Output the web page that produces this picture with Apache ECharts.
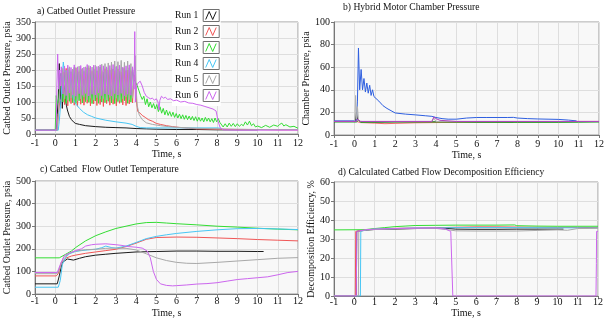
<!DOCTYPE html>
<html><head><meta charset="utf-8">
<script src="https://cdn.jsdelivr.net/npm/echarts/dist/echarts.min.js"></script>
<style>html,body{margin:0;padding:0;background:#fff}#c{width:606px;height:326px}</style>
</head><body><div id="c"></div>
<script>
// ---------- shared ----------
const runNames = ['Run 1','Run 2','Run 3','Run 4','Run 5','Run 6'];
const xTicks = {min:-1, max:12, step:1};
const panelTitles = ['a) Catbed Outlet Pressure','b) Hybrid Motor Chamber Pressure','c) Catbed  Flow Outlet Temperature','d) Calculated Catbed Flow Decomposition Efficiency'];
const yNames = ['Catbed Outlet Pressure, psia','Chamber Pressure, psia','Catbed Outlet Pressure, psia','Decomposition Efficiency, %'];
const yRanges = [[0,350,50],[0,100,20],[0,500,100],[0,60,10]];

// ---------- panel a : catbed outlet pressure ----------
const tOscA = [0.30,0.38,0.46,0.54,0.62,0.70,0.78,0.86,0.94,1.02,1.10,1.18,1.26,1.34,1.42,1.50,1.58,1.66,1.74,1.82,1.90,1.98,2.06,2.14,2.22,2.30,2.38,2.46,2.54,2.62,2.70,2.78,2.86,2.94,3.02,3.10,3.18,3.26,3.34,3.42,3.50,3.58,3.66,3.74,3.82,3.90];
const a1 = [[-1,12],[0.05,12],[0.1,60],[0.15,110],[0.2,220],[0.25,90],[0.3,190],[0.35,80],[0.4,160],[0.45,140],[0.5,110],[0.55,90],[0.6,75],[0.7,55],[0.8,45],[0.9,38],[1,33],[1.2,30],[1.5,26],[2,23],[2.5,21],[3,20],[3.5,19],[4,17],[4.5,16],[5,15],[6,14],[7,14],[8,13],[9,13],[10,13]];
const a2Head = [[-1,12],[0.1,12],[0.15,60],[0.22,100]];
const a2Osc = [110,195,92,205,88,200,95,198,90,206,87,195,93,203,90,199,96,207,88,196,94,202,89,208,92,197,86,204,95,200,90,206,93,198,88,203,96,195,91,207,89,200,94,196,97,185];
const a2Tail = [[3.96,175],[4.02,100],[4.08,70],[4.2,65],[4.3,58],[4.45,52],[4.6,45],[4.8,40],[5.0,33],[5.2,30],[5.5,26],[5.8,23],[6.2,20],[6.6,18],[7,16],[8,15],[9,14],[10,14],[11,13],[12,13]];
const a3Head = [[-1,12],[0,12],[0.05,120],[0.1,95],[0.18,110],[0.24,180]];
const a3Osc = [190,100,200,96,205,102,195,98,208,95,198,104,203,97,196,101,207,99,200,95,204,103,197,96,209,100,194,98,206,102,199,97,203,95,210,101,196,99,205,104,198,96,207,100,201,170];
const a3Tail = [[3.98,165],[4.06,150],[4.14,135],[4.22,120],[4.30,108],[4.38,118],[4.46,92],[4.54,110],[4.62,85],[4.70,100],[4.78,82],[4.86,95],[4.94,78],[5.02,92],[5.10,70],[5.18,85],[5.26,65],[5.34,80],[5.42,60],[5.50,75],[5.58,58],[5.66,70],[5.74,55],[5.82,68],[5.90,52],[5.98,64],[6.06,50],[6.14,62],[6.22,48],[6.30,60],[6.38,46],[6.46,58],[6.54,45],[6.62,56],[6.70,44],[6.78,55],[6.86,42],[6.94,54],[7.02,40],[7.10,52],[7.18,40],[7.26,50],[7.34,38],[7.42,52],[7.50,40],[7.58,50],[7.66,38],[7.74,48],[7.82,36],[7.90,50],[7.98,38],[8.06,48],[8.14,36],[8.22,30],[8.30,22],[8.40,32],[8.50,22],[8.60,34],[8.70,24],[8.80,33],[8.90,23],[9.00,32],[9.10,24],[9.20,30],[9.30,26],[9.40,38],[9.50,28],[9.60,40],[9.70,26],[9.80,32],[9.90,22],[10.0,25],[10.2,20],[10.4,27],[10.6,21],[10.8,28],[11.0,24],[11.1,30],[11.2,34],[11.3,25],[11.4,29],[11.6,22],[11.8,24],[12,18]];
const a4 = [[-1,12],[0.15,12],[0.2,40],[0.3,120],[0.35,180],[0.4,225],[0.45,195],[0.5,200],[0.6,195],[0.7,190],[0.8,150],[0.9,110],[1,95],[1.2,80],[1.4,68],[1.6,60],[1.8,55],[2,50],[2.5,43],[3,38],[3.5,34],[3.8,30],[4,24],[4.2,20],[4.5,19],[5,19],[6,19],[7,19],[8,19],[8.2,18]];
const a5Head = [[-1,12],[0.1,12],[0.2,100],[0.25,170]];
const a5Osc = [150,205,110,200,105,210,112,203,108,208,104,212,110,206,115,210,107,214,112,209,106,215,113,212,109,218,111,220,106,222,114,225,108,228,112,226,105,230,110,224,115,228,107,220,112,200];
const a5Tail = [[3.95,245],[3.99,150],[4.05,90],[4.15,60],[4.3,45],[4.5,35],[4.8,30],[5.2,26],[5.6,23],[6,21],[7,18],[8,16],[9,15],[10,14],[11,14],[12,14]];
const a6Head = [[-1,12],[0.05,12],[0.08,150],[0.12,250],[0.17,140],[0.22,200],[0.26,150]];
const a6Osc = [210,125,212,120,215,128,208,122,216,118,210,126,214,121,209,127,217,119,212,124,215,122,211,128,216,120,213,125,210,123,214,119,217,126,211,122,215,127,209,120,213,124,216,121,210,140];
const a6Tail = [[3.93,320],[3.96,100],[4.02,150],[4.1,160],[4.2,165],[4.3,150],[4.4,130],[4.5,118],[4.6,114],[4.7,110],[4.8,112],[4.9,106],[5.0,110],[5.08,100],[5.13,75],[5.17,105],[5.25,118],[5.35,112],[5.45,115],[5.55,108],[5.7,110],[5.85,104],[6.0,106],[6.2,100],[6.4,102],[6.6,97],[6.8,96],[7.0,92],[7.2,90],[7.4,86],[7.6,82],[7.8,78],[7.95,72],[8.05,40],[8.15,20],[8.3,13],[9,12],[12,12]];

// ---------- panel b : chamber pressure ----------
const b1 = [[-1,12],[0.05,12],[0.1,20],[0.15,14],[0.3,12],[1,11.5],[2,11.8],[3,11.6],[4,11.5],[5,11.8],[6,11.5],[7,11.6],[7.8,11.5]];
const b2 = [[-1,12],[0.1,12],[0.3,11],[1,10.5],[1.5,10],[2,10.3],[3,10.8],[4,11],[5,11.2],[6,11.5],[8,11.5],[10,11.8],[11,12],[12,12]];
const b3 = [[-1,11.5],[0.1,11.5],[0.2,13],[0.3,11.2],[2,11.5],[4,11.5],[6,11.3],[8,11.2],[10,11.2],[11,11.3],[12,11.5]];
const b4 = [[-1,12.5],[0.1,12.5],[0.15,30],[0.2,77],[0.26,40],[0.33,58],[0.4,40],[0.47,50],[0.54,38],[0.61,46],[0.68,37],[0.75,44],[0.82,35],[0.89,40],[0.96,34],[1.0,35],[1.2,30],[1.4,26],[1.6,23.5],[1.8,21.5],[2.0,19.5],[2.5,18.5],[3,17.8],[3.5,17],[3.8,16.5],[4,15.5],[4.3,14.5],[4.6,14],[5,14],[5.5,15],[6,15.5],[6.5,15.5],[7,15.5],[7.5,15.5],[7.8,15.6],[8,15],[8.5,14.5],[9,14.2],[9.5,14],[10,13.8],[10.5,13.2],[10.9,12.5]];
const b5 = [[-1,12],[0.02,12],[0.06,35],[0.1,14],[0.15,25],[0.2,13],[0.3,12],[3.8,12],[3.9,15],[4.0,12],[12,12]];
const b6 = [[-1,12],[0.1,12],[0.15,14],[0.3,12],[3.8,12],[3.9,16],[4.0,14.5],[4.2,13],[5,12],[12,12]];

// ---------- panel c : outlet temperature ----------
const c1 = [[-1,45],[0.1,45],[0.2,80],[0.35,140],[0.6,155],[0.9,150],[1.2,158],[1.5,165],[2,172],[2.5,176],[3,180],[3.5,183],[4,186],[5,188],[6,190],[7,190],[8,189],[9,189],[10,188],[10.3,188]];
const c2 = [[-1,80],[0.05,80],[0.15,90],[0.3,140],[0.5,158],[0.8,168],[1,172],[1.5,180],[2,186],[2.5,192],[3,198],[3.5,210],[4,225],[4.5,242],[5,250],[6,252],[7,251],[8,248],[9,245],[10,241],[11,238],[12,235]];
const c3 = [[-1,160],[0.2,160],[0.5,175],[0.8,190],[1,205],[1.5,235],[2,258],[2.5,275],[3,290],[3.5,300],[4,310],[4.5,316],[5,317],[5.5,314],[6,311],[7,306],[8,300],[9,296],[10,291],[11,287],[12,284]];
const c4 = [[-1,30],[0.15,30],[0.25,60],[0.35,130],[0.5,160],[0.7,178],[1,188],[1.3,192],[1.6,195],[2,198],[2.3,205],[2.5,212],[2.8,205],[3,203],[3.5,212],[4,228],[4.5,245],[5,255],[5.5,262],[6,268],[7,277],[8,284],[9,289],[10,290],[11,288],[12,285]];
const c5 = [[-1,90],[0.1,90],[0.25,120],[0.4,160],[0.7,180],[1,190],[1.5,196],[2,198],[2.5,202],[3,203],[3.5,202],[4,195],[4.5,178],[5,160],[5.5,148],[6,140],[6.5,136],[7,135],[8,140],[9,146],[10,152],[11,158],[12,161]];
const c6 = [[-1,95],[0.1,95],[0.25,130],[0.45,170],[0.8,185],[1,192],[1.3,200],[1.5,212],[1.8,218],[2,220],[2.5,222],[3,218],[3.3,215],[3.6,210],[4,207],[4.3,203],[4.55,190],[4.7,160],[4.85,100],[5,65],[5.2,45],[5.5,38],[5.8,36],[6,37],[6.5,40],[7,44],[7.5,46],[8,50],[8.5,57],[9,64],[9.5,68],[10,72],[10.5,76],[11,85],[11.5,95],[12,100]];

// ---------- panel d : decomposition efficiency ----------
const d1 = [[-1,0],[0.1,0],[0.12,34],[0.5,34.6],[1,35],[2,35.2],[3,35.5],[4,35.7],[4.2,35.9],[5,35.2],[6,35.1],[7,35.1],[8,35.2],[9,35.2],[10,35.2],[10.3,35.2]];
const d2 = [[-1,0],[0.05,0],[0.07,34],[0.5,34.8],[1,35.2],[2,35.6],[3,35.8],[4,35.9],[5,36.2],[6,36.4],[7,36.4],[8,36.3],[9,36.2],[10,36.1],[11,36.1],[12,36]];
const d3 = [[-1,34.8],[0.5,34.9],[1,35.5],[1.5,36],[2,36.5],[2.5,36.8],[3,37.1],[4,37.2],[5,37.3],[6,37.3],[7,37.3],[7.9,37.4],[8,37],[9,36.8],[10,36.7],[11,36.7],[12,36.7]];
const d4 = [[-1,0],[0.3,0],[0.32,34],[0.6,34.8],[1,35.2],[2,35.5],[3,35.8],[4,35.8],[5,36],[6,36],[8,36],[10,35.9],[12,35.8]];
const d5 = [[-1,0],[0.2,0],[0.22,34],[0.6,34.8],[1,35],[2,35.3],[3,35.6],[4,35.6],[4.5,35],[5,34.3],[6,34.2],[7,34.2],[8,34.2],[9,34.5],[10,34.8],[10.5,34.6],[11,35.5],[12,35.6]];
const d6 = [[-1,0],[0.1,0],[0.12,34],[0.5,34.8],[1,35.2],[2,35.5],[3,35.7],[4,35.8],[4.5,35.2],[4.75,34],[4.82,33.5],[4.85,0],[11.9,0],[11.92,17],[11.93,34],[12,34]];

// ---------- styling ----------
const F = 'Liberation Serif';
const colA = ['#1a1a1a','#f05656','#33dd33','#48c6f4','#a8a8a8','#cc66ee'];
const colB = ['#1a1a1a','#f06a6a','#1e9e1e','#2e5fe0','#b0b0b0','#b040c0'];
const grids = [
  {left:35, top:22, width:263, height:112},
  {left:334, top:22, width:265, height:113},
  {left:35, top:181, width:263, height:113},
  {left:334, top:182, width:264, height:114}
];
const xLab = [{m:4,g:15},{m:4,g:15},{m:2,g:14},{m:1,g:7}];
const yGap = [20,17,18,18];
const titlePos = [[37,6],[343,2],[40,164],[338,167]];

const zip = (t,v) => t.map((x,i)=>[x,v[i]]);
const panelData = [
  [a1, a2Head.concat(zip(tOscA,a2Osc),a2Tail), a3Head.concat(zip(tOscA,a3Osc),a3Tail), a4, a5Head.concat(zip(tOscA,a5Osc),a5Tail), a6Head.concat(zip(tOscA,a6Osc),a6Tail)],
  [b1,b2,b3,b4,b5,b6],
  [c1,c2,c3,c4,c5,c6],
  [d1,d2,d3,d4,d5,d6]
];

const txt = {fontFamily:F, fontSize:10, color:'#111'};
const option = {
  animation:false,
  backgroundColor:'#fff',
  textStyle:{fontFamily:F},
  title: panelTitles.map((t,i)=>({text:t, left:titlePos[i][0], top:titlePos[i][1], padding:0, textStyle:{fontFamily:F, fontSize:9.6, fontWeight:'normal', color:'#111'}})),
  grid: grids.map(g=>Object.assign({show:true, backgroundColor:'#f8f8f8', borderColor:'#9a9a9a', borderWidth:1, containLabel:false, outerBoundsMode:'none'}, g)),
  xAxis: grids.map((g,i)=>({type:'value', gridIndex:i, min:xTicks.min, max:xTicks.max, interval:xTicks.step,
    name:'Time, s', nameLocation:'middle', nameGap:xLab[i].g, nameTextStyle:txt,
    axisLine:{show:true, onZero:false, lineStyle:{color:'#777', width:1}},
    axisTick:{show:true, length:3, inside:false, lineStyle:{color:'#777'}},
    axisLabel:Object.assign({margin:xLab[i].m, hideOverlap:false, showMinLabel:true, showMaxLabel:true}, txt),
    splitLine:{show:true, lineStyle:{color:'#dedede', width:1}}})),
  yAxis: grids.map((g,i)=>({type:'value', gridIndex:i, min:yRanges[i][0], max:yRanges[i][1], interval:yRanges[i][2],
    name:yNames[i], nameLocation:'middle', nameGap:yGap[i], nameRotate:90, nameTextStyle:txt,
    axisLine:{show:true, onZero:false, lineStyle:{color:'#777', width:1}},
    axisTick:{show:true, length:3, inside:false, lineStyle:{color:'#777'}},
    axisLabel:Object.assign({margin:4, hideOverlap:false, showMinLabel:true, showMaxLabel:true}, txt),
    splitLine:{show:true, lineStyle:{color:'#dedede', width:1}}})),
  legend: [
    {left:172, top:5, orient:'vertical', align:'right', itemWidth:16, itemHeight:12, itemGap:3, padding:[4,1,4,3],
     backgroundColor:'#fff', selectedMode:false, icon:'rect',
     itemStyle:{color:'#fff', borderColor:'#707070', borderWidth:1},
     textStyle:{fontFamily:F, fontSize:9.6, color:'#111'},
     data: runNames},
    {left:172, top:5, orient:'vertical', align:'right', itemWidth:16, itemHeight:12, itemGap:3, padding:[4,1,4,3],
     backgroundColor:'transparent', selectedMode:false,
     icon:'path://M0,0M16,12M2.5,10L6,2L9.5,10L13,2',
     textStyle:{fontFamily:F, fontSize:9.6, color:'rgba(0,0,0,0)'},
     data: runNames.map((n,i)=>({name:n, itemStyle:{color:'rgba(0,0,0,0)', borderColor:colA[i], borderWidth:1}}))}
  ],
  series: []
};
panelData.forEach((arr,p)=>{
  arr.forEach((d,k)=>{
    const c = (p===1 ? colB : colA)[k];
    option.series.push({type:'line', name:runNames[k], xAxisIndex:p, yAxisIndex:p, data:d,
      showSymbol:false, symbol:'none', color:c, lineStyle:{color:c, width:1}, z:2+k, silent:true});
  });
});
const chart = echarts.init(document.getElementById('c'), null, {renderer:'canvas'});
chart.setOption(option);
</script></body></html>
